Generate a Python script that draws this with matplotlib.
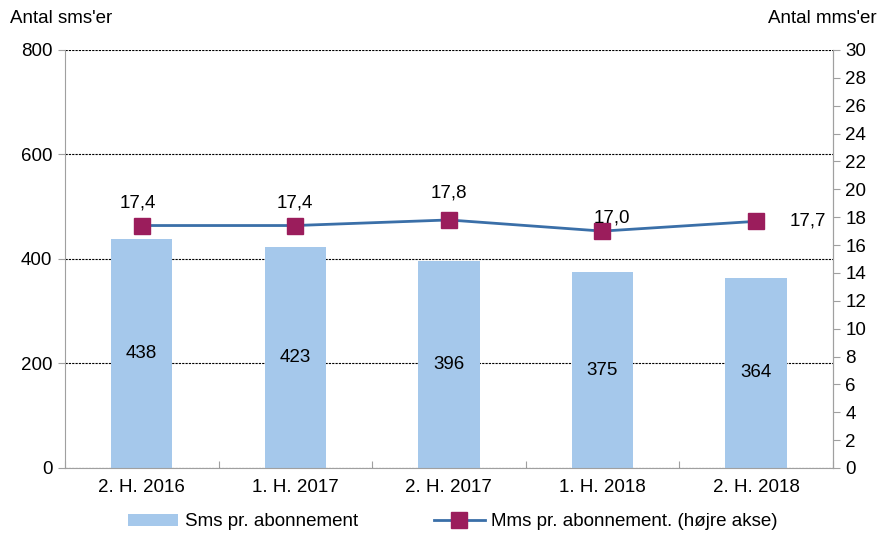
import matplotlib.pyplot as plt
import numpy as np

plt.rcParams['font.family'] = ['Liberation Sans', 'DejaVu Sans']

categories = ['2. H. 2016', '1. H. 2017', '2. H. 2017', '1. H. 2018', '2. H. 2018']
sms = [438, 423, 396, 375, 364]
mms = [17.4, 17.4, 17.8, 17.0, 17.7]
mms_labels = ['17,4', '17,4', '17,8', '17,0', '17,7']

bar_color = '#A5C8EB'
line_color = '#3A6FA8'
marker_color = '#9B1D5C'
axis_color = '#A0A0A0'
FS = 13.5

fig = plt.figure(figsize=(8.84, 5.37), dpi=100)
ax = fig.add_axes([0.0735, 0.1285, 0.8685, 0.7785])
x = np.arange(len(categories))

bars = ax.bar(x, sms, width=0.4, color=bar_color, zorder=2, label='Sms pr. abonnement')
for xi, v in zip(x, sms):
    ax.text(xi, v / 2, str(v), ha='center', va='center', fontsize=FS, zorder=3)

ax.set_xlim(-0.5, len(categories) - 0.5)
ax.set_ylim(0, 800)
ax.set_yticks([0, 200, 400, 600, 800])
ax.set_xticks(np.arange(-0.5, len(categories), 1.0), minor=False)
ax.set_xticklabels([])
ax.set_xticks(x, minor=True)
ax.set_xticklabels(categories, minor=True)
ax.tick_params(axis='x', which='minor', length=0, pad=8, labelsize=FS)
ax.tick_params(axis='x', which='major', length=5, color=axis_color, direction='in')
ax.tick_params(axis='y', length=5, color=axis_color, labelsize=FS, pad=4)
ax.yaxis.grid(True, linestyle=(0, (2, 1)), color='black', linewidth=0.8, zorder=0)
ax.spines['top'].set_visible(False)
for s in ['left', 'bottom', 'right']:
    ax.spines[s].set_color(axis_color)

ax2 = ax.twinx()
line, = ax2.plot(x, mms, color=line_color, linewidth=2, marker='s', markersize=11,
                 markerfacecolor=marker_color, markeredgecolor=marker_color,
                 label='Mms pr. abonnement. (højre akse)', zorder=4)
ax2.set_ylim(0, 30)
ax2.set_yticks(np.arange(0, 31, 2))
ax2.tick_params(axis='y', length=5, color=axis_color, labelsize=FS, pad=4)
for s in ['top', 'left', 'bottom']:
    ax2.spines[s].set_visible(False)
ax2.spines['right'].set_color(axis_color)

# label offsets (points) as placed in the original
offsets = [(-3, 10), (0, 10), (0, 13), (7, 3), (24, 0)]
for i, (v, lab) in enumerate(zip(mms, mms_labels)):
    dx, dy = offsets[i]
    if i == len(mms) - 1:
        ax2.annotate(lab, (x[i], v), xytext=(dx, dy), textcoords='offset points',
                     ha='left', va='center', fontsize=FS)
    else:
        ax2.annotate(lab, (x[i], v), xytext=(dx, dy), textcoords='offset points',
                     ha='center', va='bottom', fontsize=FS, zorder=5)

fig.text(0.011, 0.965, "Antal sms'er", fontsize=FS, ha='left', va='center')
fig.text(0.992, 0.965, "Antal mms'er", fontsize=FS, ha='right', va='center')

fig.legend([bars, line], ['Sms pr. abonnement', 'Mms pr. abonnement. (højre akse)'],
           loc='center', bbox_to_anchor=(0.512, 0.028), ncol=2, frameon=False,
           fontsize=FS, handlelength=2.7, handleheight=0.6, columnspacing=4.05,
           handletextpad=0.35)

fig.savefig('out.png', dpi=100)
